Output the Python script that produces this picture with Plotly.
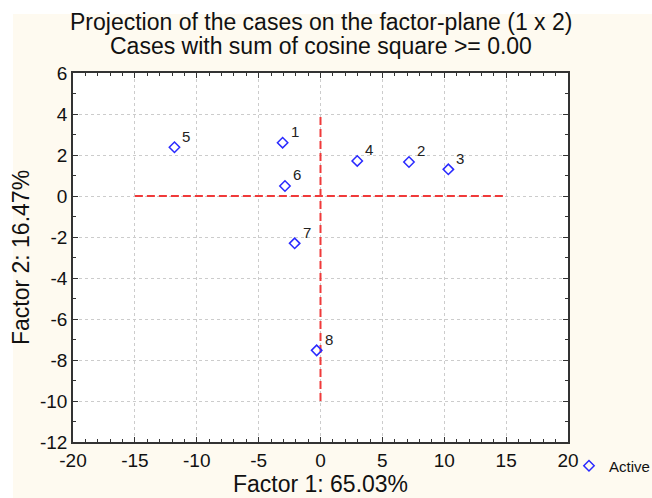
import plotly.graph_objects as go

# Case coordinates on factor 1 / factor 2
case_labels = ["1", "2", "3", "4", "5", "6", "7", "8"]
factor1 = [-3.06, 7.15, 10.33, 2.97, -11.8, -2.87, -2.09, -0.31]
factor2 = [2.60, 1.66, 1.30, 1.71, 2.38, 0.49, -2.31, -7.53]

# Reference cross through the origin
hline_x = [-15, 15]
hline_y = [0, 0]
vline_x = [0, 0]
vline_y = [-10, 4]

# Tick values and their printed labels (plain hyphen minus)
xtick_vals = [-20, -15, -10, -5, 0, 5, 10, 15, 20]
xtick_text = ["-20", "-15", "-10", "-5", "0", "5", "10", "15", "20"]
ytick_vals = [-12, -10, -8, -6, -4, -2, 0, 2, 4, 6]
ytick_text = ["-12", "-10", "-8", "-6", "-4", "-2", "0", "2", "4", "6"]

title_lines = ["Projection of the cases on the factor-plane (1 x 2)",
               "Cases with sum of cosine square >= 0.00"]

FONT = "Liberation Sans, Arial, sans-serif"
CREAM = "#fefaf0"
RED = "#f03a3a"
BLUE = "#2a2aff"

fig = go.Figure()

fig.add_trace(go.Scatter(x=hline_x, y=hline_y, mode="lines",
                         line=dict(color=RED, width=2, dash="8px,4px"),
                         showlegend=False, hoverinfo="skip"))
fig.add_trace(go.Scatter(x=vline_x, y=vline_y, mode="lines",
                         line=dict(color=RED, width=2, dash="8px,4px"),
                         showlegend=False, hoverinfo="skip"))

fig.add_trace(go.Scatter(
    x=factor1, y=factor2, mode="markers", name="Active",
    marker=dict(symbol="diamond-open", size=8, color=BLUE, line=dict(width=1.5)),
))

for lab, xv, yv in zip(case_labels, factor1, factor2):
    fig.add_annotation(x=xv, y=yv, text=lab, showarrow=False,
                       xshift=12, yshift=11,
                       font=dict(family=FONT, size=15, color="#222"))

# Two-line title, each line placed above the plot area
for line, shift in zip(title_lines, [51, 27]):
    fig.add_annotation(xref="paper", yref="paper", x=0.5, y=1.0,
                       yshift=shift, yanchor="middle", showarrow=False,
                       text=line, font=dict(family=FONT, size=23, color="#111"))

axis_common = dict(
    showline=True, linecolor="#333", linewidth=1.5, mirror="allticks",
    ticks="inside", ticklen=5, tickcolor="#333",
    showgrid=True, gridcolor="#cccccc", griddash="dot", gridwidth=1,
    zeroline=False,
    tickfont=dict(family=FONT, size=19, color="#111"),
    minor=dict(ticks="inside", ticklen=3, dtick=1, tickcolor="#333", showgrid=False),
)

fig.update_xaxes(range=[-20, 20], tickmode="array",
                 tickvals=xtick_vals, ticktext=xtick_text,
                 title=dict(text="Factor 1: 65.03%", standoff=2,
                            font=dict(family=FONT, size=23, color="#111")),
                 **axis_common)
fig.update_yaxes(range=[-12, 6], tickmode="array",
                 tickvals=ytick_vals, ticktext=ytick_text,
                 title=dict(text="Factor 2: 16.47%", standoff=4,
                            font=dict(family=FONT, size=23, color="#111")),
                 **axis_common)

# White strips along the top and left edge of the page
fig.add_shape(type="rect", xref="paper", yref="paper", layer="below",
              x0=-0.16, x1=1.2, y0=1.1599, y1=1.21,
              fillcolor="white", line=dict(width=0))
fig.add_shape(type="rect", xref="paper", yref="paper", layer="below",
              x0=-0.16, x1=-0.1212, y0=-0.2, y1=1.21,
              fillcolor="white", line=dict(width=0))

fig.update_layout(
    width=652, height=498,
    margin=dict(l=73, r=84, t=73, b=56, autoexpand=False),
    paper_bgcolor=CREAM, plot_bgcolor="white",
    font=dict(family=FONT),
    showlegend=True,
    legend=dict(x=1.002, y=-0.065, xanchor="left", yanchor="middle",
                bgcolor="rgba(0,0,0,0)", itemwidth=30,
                font=dict(family=FONT, size=15, color="#111")),
)

fig.write_html("out.html")
